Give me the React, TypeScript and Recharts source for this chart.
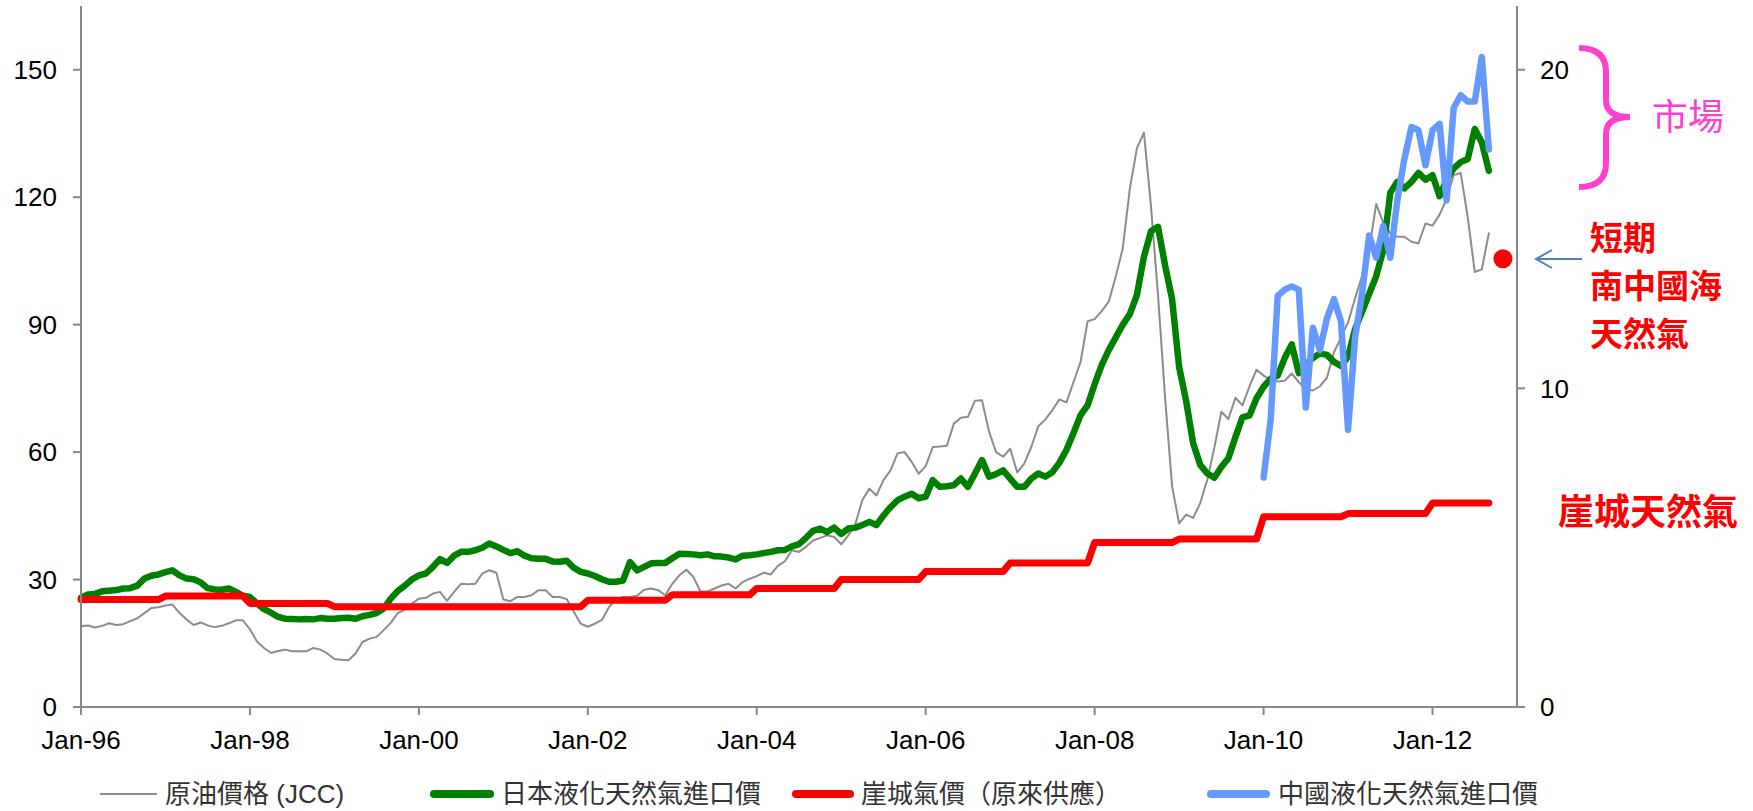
import React from 'react';
import { ComposedChart, Line, XAxis, YAxis, ReferenceDot, Legend } from 'recharts';

// month index 0 = Jan-96, one point per month through Sep-12 (index 200)
const tickMonths = [0, 24, 48, 72, 96, 120, 144, 168, 192];
const tickLabels = ['Jan-96', 'Jan-98', 'Jan-00', 'Jan-02', 'Jan-04', 'Jan-06', 'Jan-08', 'Jan-10', 'Jan-12'];
const leftTicks = [0, 30, 60, 90, 120, 150];
const rightTicks = [0, 10, 20];

// JCC crude, US$/bbl (left axis)
const jccCrude = [
  19.0, 19.2, 18.7, 19.1, 19.7, 19.3, 19.5, 20.2, 20.9, 22.1, 23.3, 23.5,
  23.9, 24.1, 22.1, 20.6, 19.3, 19.9, 19.2, 18.8, 19.1, 19.7, 20.4, 20.4,
  18.3, 15.4, 13.9, 12.7, 13.2, 13.5, 13.1, 13.1, 13.1, 13.9, 13.5, 12.6,
  11.3, 11.1, 11.0, 12.6, 15.3, 16.1, 16.5, 18.1, 19.8, 22.1, 22.9, 24.3,
  25.5, 25.7, 26.7, 27.1, 25.0, 27.1, 29.0, 28.9, 29.0, 31.4, 32.2, 31.6,
  25.3, 24.9, 25.9, 25.9, 26.3, 27.5, 27.5, 25.9, 25.9, 25.4, 22.4, 19.6,
  18.9, 19.6, 20.5, 23.5, 25.3, 25.9, 25.9, 26.2, 27.6, 27.9, 27.5, 26.3,
  29.0, 31.0, 32.3, 30.6, 27.2, 27.2, 27.9, 28.6, 29.0, 27.9, 29.4, 30.2,
  30.8, 31.6, 31.2, 33.2, 34.3, 36.9, 36.5, 37.7, 39.2, 39.8, 40.4, 40.0,
  38.3, 40.4, 43.0, 48.7, 51.4, 49.8, 53.4, 55.7, 59.7, 60.0, 57.7, 54.9,
  56.7, 61.2, 61.3, 61.5, 66.7, 68.1, 68.3, 72.1, 72.2, 64.8, 60.0, 58.9,
  60.8, 55.2, 57.3, 61.2, 66.1, 67.7, 69.9, 72.4, 71.7, 76.5, 81.2, 90.8,
  91.3, 93.2, 95.4, 101.3, 108.0, 122.0, 131.5, 135.2, 118.0, 97.0, 73.0, 52.0,
  43.2, 45.3, 44.5, 48.0, 53.5, 61.0, 69.5, 67.8, 72.8, 71.0, 75.5, 79.4,
  78.0, 77.0, 76.6, 76.8, 78.5, 76.5, 74.8, 74.5, 75.5, 77.5, 83.5, 87.0,
  90.5, 96.2, 101.5, 107.6, 118.4, 114.0, 111.5, 110.7, 110.7, 109.5, 109.1, 113.8,
  113.3, 115.9, 119.5, 125.2, 125.7, 115.3, 102.4, 103.0, 111.5,
];

// Japan LNG import price, US$/MMBtu (right axis)
const japanLng = [
  3.43, 3.53, 3.55, 3.63, 3.65, 3.67, 3.72, 3.73, 3.81, 4.03, 4.12, 4.16,
  4.23, 4.29, 4.13, 4.03, 4.01, 3.91, 3.73, 3.69, 3.68, 3.72, 3.61, 3.49,
  3.45, 3.25, 3.07, 2.96, 2.83, 2.77, 2.76, 2.75, 2.76, 2.75, 2.79, 2.77,
  2.77, 2.79, 2.80, 2.77, 2.85, 2.89, 2.95, 3.09, 3.40, 3.64, 3.81, 4.00,
  4.13, 4.19, 4.40, 4.64, 4.52, 4.75, 4.87, 4.87, 4.92, 5.00, 5.13, 5.04,
  4.93, 4.83, 4.89, 4.75, 4.67, 4.65, 4.65, 4.57, 4.56, 4.59, 4.37, 4.24,
  4.19, 4.11, 4.01, 3.93, 3.93, 3.97, 4.55, 4.29, 4.40, 4.51, 4.52, 4.52,
  4.67, 4.81, 4.80, 4.79, 4.76, 4.79, 4.73, 4.72, 4.69, 4.63, 4.75, 4.76,
  4.79, 4.83, 4.87, 4.92, 4.93, 5.04, 5.11, 5.31, 5.53, 5.60, 5.49, 5.63,
  5.43, 5.60, 5.63, 5.71, 5.81, 5.71, 6.01, 6.27, 6.49, 6.60, 6.69, 6.55,
  6.60, 7.12, 6.91, 6.93, 6.96, 7.17, 6.91, 7.33, 7.75, 7.23, 7.31, 7.43,
  7.17, 6.91, 6.91, 7.17, 7.33, 7.23, 7.37, 7.67, 8.07, 8.60, 9.16, 9.47,
  10.13, 10.73, 11.20, 11.60, 12.00, 12.33, 12.93, 14.13, 14.93, 15.07, 13.87, 12.80,
  10.67, 9.60, 8.27, 7.60, 7.33, 7.20, 7.53, 7.81, 8.47, 9.09, 9.15, 9.69,
  10.05, 10.30, 10.40, 10.95, 11.38, 10.48, 10.76, 10.95, 11.10, 11.05, 10.83, 10.70,
  11.00, 11.86, 12.41, 12.97, 13.52, 14.34, 16.14, 16.48, 16.28, 16.48, 16.76, 16.55,
  16.69, 16.03, 16.55, 16.90, 17.10, 17.20, 18.14, 17.72, 16.83,
];

// Yacheng gas price (original supply), US$/MMBtu, reset every January
const yachengGas = [
  3.37, 3.37, 3.37, 3.37, 3.37, 3.37, 3.37, 3.37, 3.37, 3.37, 3.37, 3.37,
  3.48, 3.48, 3.48, 3.48, 3.48, 3.48, 3.48, 3.48, 3.48, 3.48, 3.48, 3.48,
  3.25, 3.25, 3.25, 3.25, 3.25, 3.25, 3.25, 3.25, 3.25, 3.25, 3.25, 3.25,
  3.15, 3.15, 3.15, 3.15, 3.15, 3.15, 3.15, 3.15, 3.15, 3.15, 3.15, 3.15,
  3.15, 3.15, 3.15, 3.15, 3.15, 3.15, 3.15, 3.15, 3.15, 3.15, 3.15, 3.15,
  3.15, 3.15, 3.15, 3.15, 3.15, 3.15, 3.15, 3.15, 3.15, 3.15, 3.15, 3.15,
  3.35, 3.35, 3.35, 3.35, 3.35, 3.35, 3.35, 3.35, 3.35, 3.35, 3.35, 3.35,
  3.52, 3.52, 3.52, 3.52, 3.52, 3.52, 3.52, 3.52, 3.52, 3.52, 3.52, 3.52,
  3.72, 3.72, 3.72, 3.72, 3.72, 3.72, 3.72, 3.72, 3.72, 3.72, 3.72, 3.72,
  4.00, 4.00, 4.00, 4.00, 4.00, 4.00, 4.00, 4.00, 4.00, 4.00, 4.00, 4.00,
  4.25, 4.25, 4.25, 4.25, 4.25, 4.25, 4.25, 4.25, 4.25, 4.25, 4.25, 4.25,
  4.52, 4.52, 4.52, 4.52, 4.52, 4.52, 4.52, 4.52, 4.52, 4.52, 4.52, 4.52,
  5.16, 5.16, 5.16, 5.16, 5.16, 5.16, 5.16, 5.16, 5.16, 5.16, 5.16, 5.16,
  5.27, 5.27, 5.27, 5.27, 5.27, 5.27, 5.27, 5.27, 5.27, 5.27, 5.27, 5.27,
  5.97, 5.97, 5.97, 5.97, 5.97, 5.97, 5.97, 5.97, 5.97, 5.97, 5.97, 5.97,
  6.07, 6.07, 6.07, 6.07, 6.07, 6.07, 6.07, 6.07, 6.07, 6.07, 6.07, 6.07,
  6.40, 6.40, 6.40, 6.40, 6.40, 6.40, 6.40, 6.40, 6.40,
];

// China LNG import price, US$/MMBtu, from Jan-10 (month index 168)
const chinaStart = 168;
const chinaLng = [
  7.2, 9.0, 12.9, 13.1, 13.2, 13.1, 9.4, 11.9, 11.2, 12.2, 12.8, 12.1,
  8.7, 11.6, 13.0, 14.8, 14.1, 15.1, 14.1, 15.9, 17.2, 18.2, 18.1, 17.0,
  18.1, 18.3, 15.9, 18.8, 19.2, 19.0, 19.0, 20.4, 17.5,
];

// short-term South China Sea gas
const spotMonth = 202;
const spotPrice = 14.07;

const series = [
  { key: 'jcc', name: '原油價格 (JCC)', color: '#8c8c8c', width: 2, axis: 'left' },
  { key: 'japan', name: '日本液化天然氣進口價', color: '#008000', width: 6.5, axis: 'right' },
  { key: 'yacheng', name: '崖城氣價（原來供應）', color: '#ff0000', width: 7, axis: 'right' },
  { key: 'china', name: '中國液化天然氣進口價', color: '#6699ff', width: 6.5, axis: 'right' },
];

const tableData = jccCrude.map((v, m) => ({
  m,
  jcc: v,
  japan: japanLng[m],
  yacheng: yachengGas[m],
  china: m >= chinaStart ? chinaLng[m - chinaStart] : null,
}));

const W = 1753;
const H = 811;
const latin = '"Liberation Sans", Arial, sans-serif';
const cjk = '"Liberation Sans", "Noto Sans CJK TC", sans-serif';
const axisGray = '#888888';
const tickStyle = { fontFamily: latin, fontSize: 26, fill: '#000' };

const legendPos = [
  { x1: 100, x2: 157, tx: 165 },
  { x1: 434, x2: 490, tx: 501 },
  { x1: 796, x2: 850, tx: 861 },
  { x1: 1211, x2: 1266, tx: 1278 },
];

function LegendRow() {
  return (
    <svg width={W} height={34} style={{ display: 'block' }}>
      {series.map((s, i) => (
        <g key={s.key}>
          <line x1={legendPos[i].x1} x2={legendPos[i].x2} y1={17} y2={17}
            stroke={s.color} strokeWidth={s.width === 2 ? 2 : 8} strokeLinecap={s.width === 2 ? 'butt' : 'round'} />
          <text x={legendPos[i].tx} y={17} dominantBaseline="central"
            style={{ fontFamily: cjk, fontSize: 26, fill: '#333' }}>{s.name}</text>
        </g>
      ))}
    </svg>
  );
}

function Notes() {
  const red = '#ff0000';
  const pink = '#ff40cc';
  const big = { fontFamily: '"Noto Sans CJK TC", sans-serif', fontSize: 36 };
  const block = { fontFamily: '"Noto Sans CJK TC", sans-serif', fontSize: 33, fill: red, fontWeight: 700 };
  return (
    <svg width={W} height={H} style={{ position: 'absolute', left: 0, top: 0, pointerEvents: 'none' }}>
      <path d="M1579,48 Q1606,48 1606,72 L1606,100 Q1606,117 1630,117 Q1606,117 1606,134 L1606,163 Q1606,187 1579,187"
        fill="none" stroke={pink} strokeWidth={6} />
      <text x={1652} y={114} dominantBaseline="central" style={{ ...big, fill: pink }}>市場</text>
      <line x1={1582} y1={259} x2={1536} y2={259} stroke="#4f7fc0" strokeWidth={2} />
      <polyline points="1552,250 1536,259 1552,268" fill="none" stroke="#4f7fc0" strokeWidth={2} />
      <text x={1590} y={236} dominantBaseline="central" style={block}>短期</text>
      <text x={1590} y={284} dominantBaseline="central" style={block}>南中國海</text>
      <text x={1590} y={332} dominantBaseline="central" style={block}>天然氣</text>
      <text x={1558} y={509} dominantBaseline="central" style={{ ...big, fill: red, fontWeight: 700 }}>崖城天然氣</text>
    </svg>
  );
}

export default function App() {
  return (
    <div style={{ position: 'relative', width: W, height: H, background: '#fff' }}>
      <style>{'body{margin:0}'}</style>
      <ComposedChart width={W} height={H} data={tableData} margin={{ top: 6, right: 0, bottom: 0, left: 0 }}>
        <XAxis dataKey="m" type="number" domain={[0, 204]} ticks={tickMonths}
          tickFormatter={(v: number) => tickLabels[tickMonths.indexOf(v)]}
          height={70} tickSize={8} tickMargin={16} tick={tickStyle}
          axisLine={{ stroke: axisGray, strokeWidth: 2 }} tickLine={{ stroke: axisGray, strokeWidth: 2 }} />
        <YAxis yAxisId="left" orientation="left" domain={[0, 165]} ticks={leftTicks} width={81}
          tickSize={8} tickMargin={16} tick={tickStyle} interval={0}
          axisLine={{ stroke: axisGray, strokeWidth: 2 }} tickLine={{ stroke: axisGray, strokeWidth: 2 }} />
        <YAxis yAxisId="right" orientation="right" domain={[0, 22]} ticks={rightTicks} width={236}
          tickSize={8} tickMargin={15} tick={tickStyle} interval={0}
          axisLine={{ stroke: axisGray, strokeWidth: 2 }} tickLine={{ stroke: axisGray, strokeWidth: 2 }} />
        <Legend verticalAlign="bottom" height={34} content={() => <LegendRow />}
          wrapperStyle={{ left: 0, bottom: 0, width: W, height: 34 }} />
        {series.map((s) => (
          <Line key={s.key} yAxisId={s.axis} dataKey={s.key} name={s.name} type="linear"
            stroke={s.color} strokeWidth={s.width} dot={false} activeDot={false}
            strokeLinejoin="round" strokeLinecap="round" isAnimationActive={false} />
        ))}
        <ReferenceDot yAxisId="right" x={spotMonth} y={spotPrice} r={9.5} fill="#ff0000" stroke="none" />
      </ComposedChart>
      <Notes />
    </div>
  );
}
